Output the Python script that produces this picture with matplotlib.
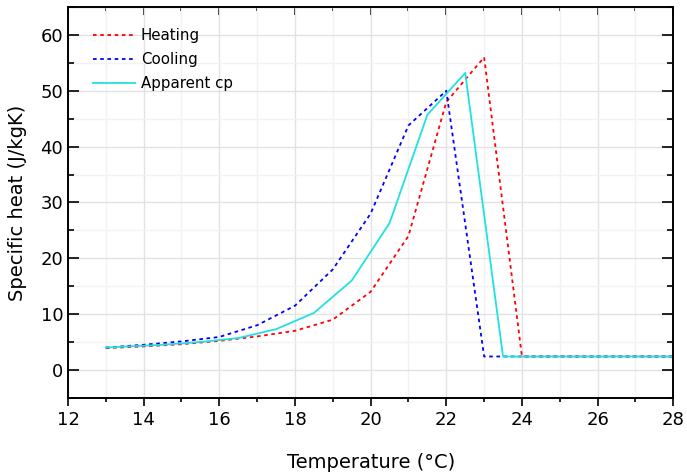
import matplotlib.pyplot as plt
from matplotlib.ticker import MultipleLocator

# heating / cooling curves (integer steps)
t_hc = [13, 14, 15, 16, 17, 18, 19, 20, 21, 22, 23, 24, 28]
heating = [3.9, 4.2, 4.6, 5.2, 6.0, 7.0, 9.0, 14.0, 24.0, 48.0, 56.0, 2.4, 2.4]
t_cool = [13, 14, 15, 16, 17, 18, 19, 20, 21, 22, 23, 23.5, 28]
cooling = [4.0, 4.5, 5.1, 5.9, 8.0, 11.5, 18.0, 28.0, 43.8, 50.0, 2.4, 2.4, 2.4]
# apparent cp (half steps)
t_app = [13, 14.5, 15.5, 16.5, 17.5, 18.5, 19.5, 20.5, 21.5, 22.5, 23.5, 28]
apparent = [4.0, 4.5, 5.0, 5.7, 7.3, 10.2, 16.0, 26.3, 45.7, 53.2, 2.4, 2.4]

plt.rcParams['font.family'] = 'DejaVu Sans'
fig = plt.figure(figsize=(6.87, 4.73), dpi=100)
ax = fig.add_axes([0.099, 0.159, 0.881, 0.826])

ax.plot(t_hc, heating, color='red', ls=(0, (2, 2)), lw=1.3, label='Heating')
ax.plot(t_cool, cooling, color='blue', ls=(0, (2, 2)), lw=1.3, label='Cooling')
ax.plot(t_app, apparent, color='#22e0e0', ls='-', lw=1.3, label='Apparent cp')

ax.set_xlim(12, 28)
ax.set_ylim(-5, 65)
ax.xaxis.set_major_locator(MultipleLocator(2))
ax.xaxis.set_minor_locator(MultipleLocator(1))
ax.yaxis.set_major_locator(MultipleLocator(10))
ax.yaxis.set_minor_locator(MultipleLocator(5))
ax.set_yticks(range(0, 70, 10))

ax.grid(which='major', color='#e2e2e2', lw=1.0)
ax.grid(which='minor', color='#f2f2f2', lw=1.0)
ax.set_axisbelow(True)

for s in ax.spines.values():
    s.set_linewidth(1.4)

ax.tick_params(axis='x', which='both', direction='out', labelsize=13, width=1.2)
ax.tick_params(axis='x', which='major', length=6)
ax.tick_params(axis='x', which='minor', length=3)
ax.tick_params(axis='y', which='both', direction='in', left=True, right=True,
               labelsize=13, width=1.2)
ax.tick_params(axis='y', which='major', length=8)
ax.tick_params(axis='y', which='minor', length=4)
top = ax.secondary_xaxis('top')
top.xaxis.set_major_locator(MultipleLocator(2))
top.xaxis.set_minor_locator(MultipleLocator(1))
top.tick_params(which='both', direction='in', labeltop=False, width=1.2)
top.tick_params(which='major', length=6)
top.tick_params(which='minor', length=3)

ax.set_xlabel('Temperature (°C)', fontsize=14, labelpad=17)
ax.set_ylabel('Specific heat (J/kgK)', fontsize=14, labelpad=10)

ax.legend(loc='upper left', bbox_to_anchor=(0.031, 0.962), borderaxespad=0,
          frameon=False, fontsize=10.8, handlelength=2.8, handletextpad=0.4,
          labelspacing=0.6)

fig.savefig('out.png', dpi=100)
